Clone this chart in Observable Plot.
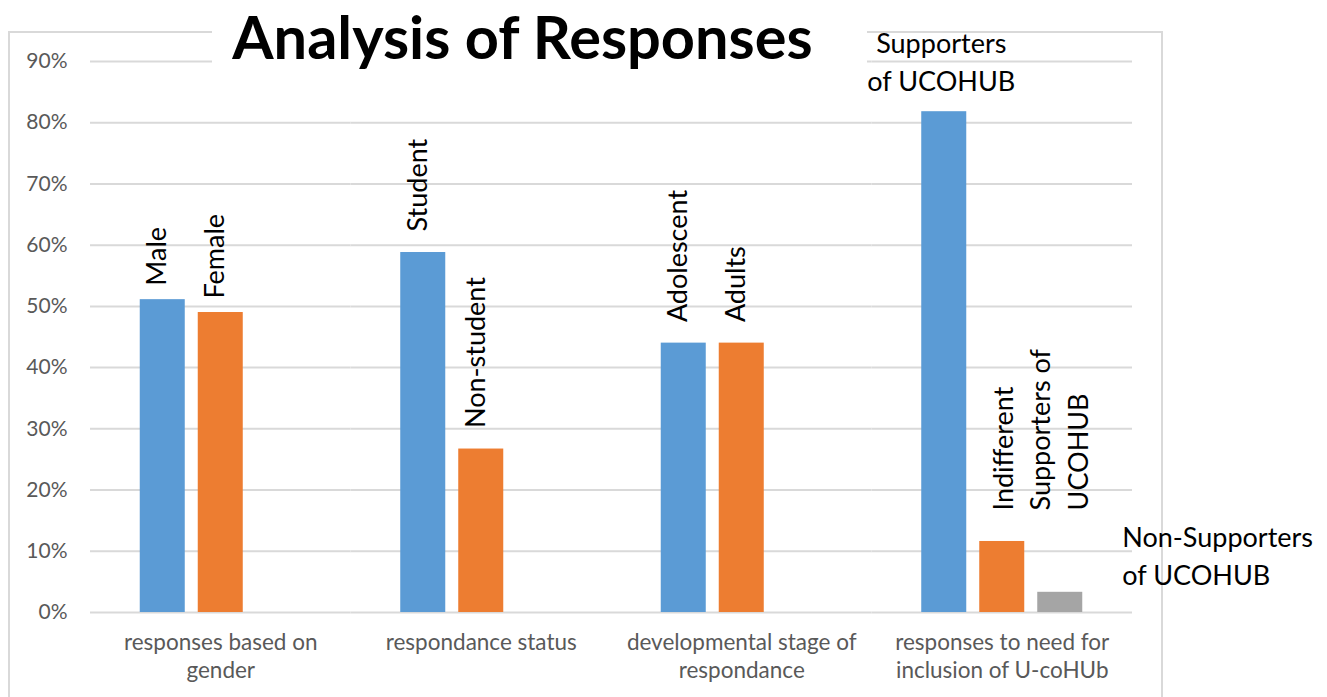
<!DOCTYPE html>
<html>
<head>
<meta charset="utf-8">
<script src="https://cdn.jsdelivr.net/npm/d3@7"></script>
<script src="https://cdn.jsdelivr.net/npm/@observablehq/plot@0.6"></script>
<style>
  html, body { margin: 0; padding: 0; background: #fff; overflow: hidden; }
  #wrap { position: relative; width: 1327px; height: 697px; overflow: hidden; font-family: Lato, sans-serif; }
  #border { position: absolute; left: 8px; top: 31px; width: 1155px; height: 720px; box-sizing: border-box; border: 2px solid #d9d9d9; }
  #titleMask { position: absolute; left: 212px; top: 0; width: 655px; height: 74px; background: #fff; z-index: 3; }
  #title { position: absolute; left: 212px; top: 6px; width: 621px; height: 66px; text-align: center; font: 700 59.5px/60px Lato, sans-serif; color: #000; z-index: 4; white-space: nowrap; }
  #wrap svg { position: absolute; left: 0; top: 0; z-index: 2; }
</style>
</head>
<body>
<div id="wrap">
  <div id="border"></div>
  <div id="titleMask"></div>
  <div id="title">Analysis of Responses</div>
</div>
<script>
// ---- data ----
const groups = [
  "responses based on gender",
  "respondance status",
  "developmental stage of respondance",
  "responses to need for inclusion of U-coHUb"
];
const groupLabels = [
  "responses based on\ngender",
  "respondance status",
  "developmental stage of\nrespondance",
  "responses to need for\ninclusion of U-coHUb"
];
const seriesKeys = ["A", "B", "C"];
const valuesA = [0.511, 0.588, 0.44, 0.818];
const valuesB = [0.49, 0.267, 0.44, 0.116];
const valuesC = [null, null, null, 0.033];
const labelsA = ["Male", "Student", "Adolescent", "Supporters\nof UCOHUB"];
const labelsB = ["Female", "Non-student", "Adults", "Indifferent\nSupporters of\nUCOHUB"];
const labelsC = [null, null, null, "Non-Supporters\nof UCOHUB"];
const yTicks = [0, 0.1, 0.2, 0.3, 0.4, 0.5, 0.6, 0.7, 0.8, 0.9];

// ---- table ----
const rows = groups.flatMap((g, i) =>
  [["A", valuesA[i], labelsA[i]], ["B", valuesB[i], labelsB[i]], ["C", valuesC[i], labelsC[i]]]
    .filter(([, v]) => v != null)
    .map(([s, v, l]) => ({group: g, gi: i, series: s, value: v, label: l}))
);

const lastGi = groups.length - 1;
const common = {fx: "group", x: "series", y: "value", text: "label", fontSize: 27, fill: "#000"};

const plot = Plot.plot({
  width: 1327,
  height: 697,
  marginLeft: 90,
  marginRight: 195,
  marginTop: 61,
  marginBottom: 85,
  style: {fontFamily: "Lato, sans-serif", background: "transparent", overflow: "visible"},
  fx: {domain: groups, padding: 0, round: false, axis: null, label: null},
  x: {domain: seriesKeys, paddingInner: 0.224, paddingOuter: 0.8577, round: false, axis: null, label: null},
  y: {domain: [0, 0.9], axis: null},
  color: {domain: seriesKeys, range: ["#5b9bd5", "#ed7d31", "#a5a5a5"]},
  marks: [
    Plot.gridY(yTicks, {stroke: "#d9d9d9", strokeOpacity: 1, strokeWidth: 2}),
    Plot.axisY(yTicks, {tickFormat: d3.format(".0%"), tickSize: 0, tickPadding: 23, fontSize: 21, color: "#595959", label: null}),
    Plot.barY(rows, {fx: "group", x: "series", y: "value", fill: "series"}),
    // rotated labels (first group, no box)
    Plot.text(rows, {...common, filter: d => d.gi === 0, rotate: -90, textAnchor: "start", dx: -5, dy: -14}),
    // rotated labels with white box
    Plot.text(rows, {...common, filter: d => d.gi > 0 && d.gi < lastGi, rotate: -90, textAnchor: "start", dx: -5, dy: -21, ariaLabel: "boxed-label"}),
    // last group labels
    Plot.text(rows, {...common, filter: d => d.gi === lastGi && d.series === "A", textAnchor: "middle", lineAnchor: "bottom", lineHeight: 1.4, dy: -21, dx: -3, ariaLabel: "boxed-label"}),
    Plot.text(rows, {...common, filter: d => d.gi === lastGi && d.series === "B", rotate: -90, textAnchor: "start", lineAnchor: "middle", lineHeight: 1.4, dx: 36, dy: -31, ariaLabel: "boxed-label"}),
    Plot.text(rows, {...common, filter: d => d.gi === lastGi && d.series === "C", textAnchor: "start", lineAnchor: "bottom", lineHeight: 1.4, dx: 62, dy: -7, ariaLabel: "boxed-label"}),
    // category labels
    Plot.text(groups, {fx: d => d, text: (d, i) => groupLabels[i], frameAnchor: "bottom", lineAnchor: "top", lineHeight: 1.24, dy: 18, fontSize: 22.5, fill: "#595959"})
  ]
});

document.getElementById("wrap").appendChild(plot);

// white boxes behind boxed labels
const pad = 14;
plot.querySelectorAll('g[aria-label="boxed-label"] text').forEach(t => {
  const b = t.getBBox();
  const r = document.createElementNS("http://www.w3.org/2000/svg", "rect");
  r.setAttribute("x", b.x - pad);
  r.setAttribute("y", b.y - pad / 2);
  r.setAttribute("width", b.width + 2 * pad);
  r.setAttribute("height", b.height + pad);
  r.setAttribute("fill", "#fff");
  const tr = t.getAttribute("transform");
  if (tr) r.setAttribute("transform", tr);
  t.parentNode.insertBefore(r, t);
});
</script>
</body>
</html>
